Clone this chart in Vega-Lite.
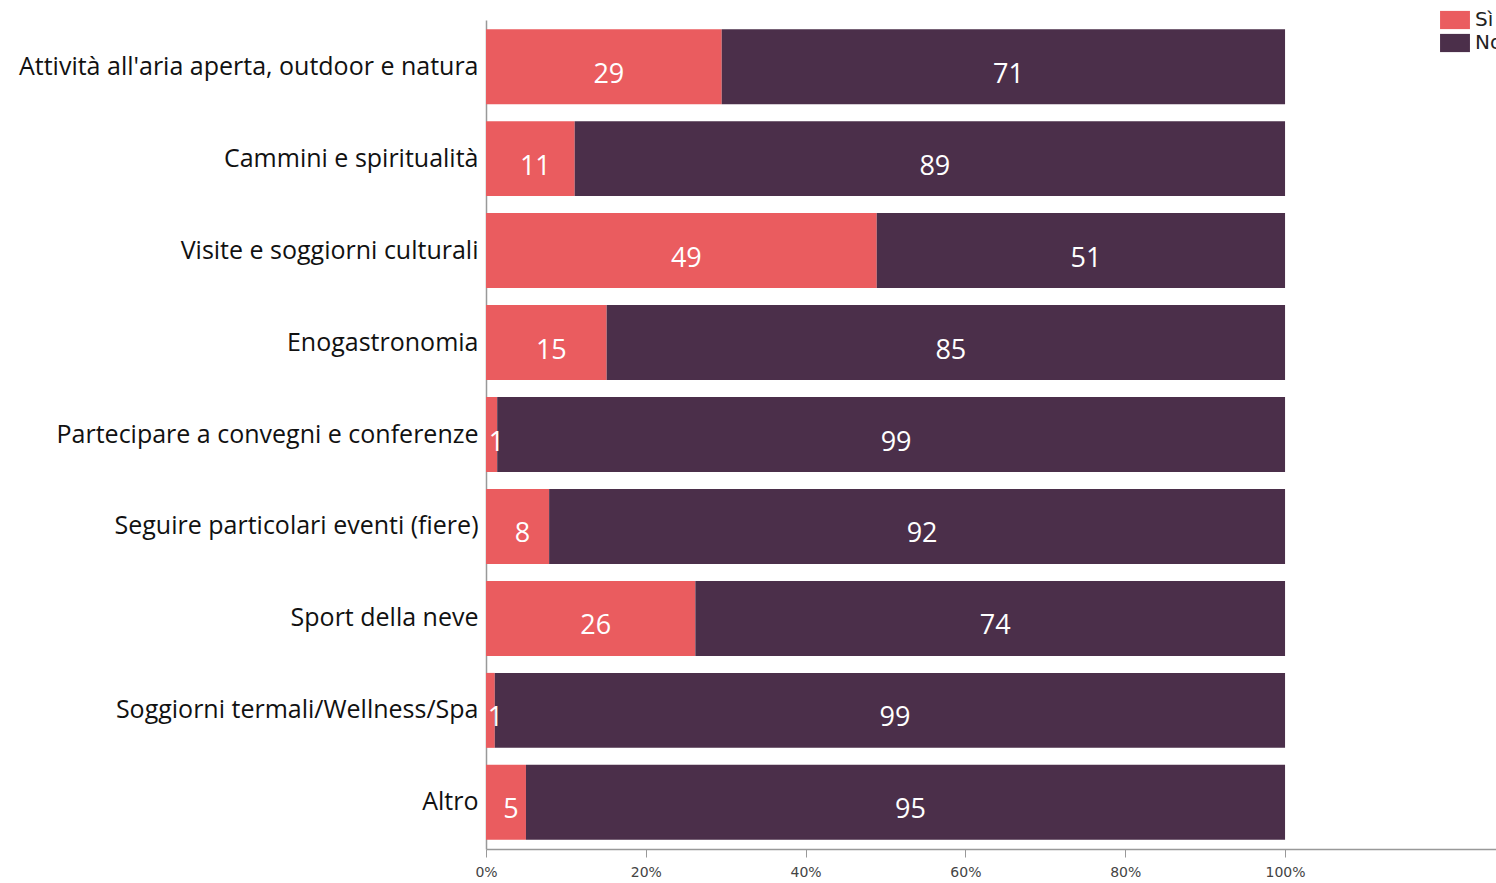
{
  "$schema": "https://vega.github.io/schema/vega-lite/v6.json",
  "width": 1010,
  "height": 829,
  "autosize": {"type": "none"},
  "padding": {"left": 486, "top": 20, "right": 0, "bottom": 34},
  "background": "white",
  "config": {"view": {"stroke": null}},
  "data": {
    "values": [
      {"cat": "Attività all'aria aperta, outdoor e natura", "risposta": "Sì", "valore": 29.5, "etichetta": "29"},
      {"cat": "Attività all'aria aperta, outdoor e natura", "risposta": "No", "valore": 70.5, "etichetta": "71"},
      {"cat": "Cammini e spiritualità", "risposta": "Sì", "valore": 11.1, "etichetta": "11"},
      {"cat": "Cammini e spiritualità", "risposta": "No", "valore": 88.9, "etichetta": "89"},
      {"cat": "Visite e soggiorni culturali", "risposta": "Sì", "valore": 48.9, "etichetta": "49"},
      {"cat": "Visite e soggiorni culturali", "risposta": "No", "valore": 51.1, "etichetta": "51"},
      {"cat": "Enogastronomia", "risposta": "Sì", "valore": 15.1, "etichetta": "15"},
      {"cat": "Enogastronomia", "risposta": "No", "valore": 84.9, "etichetta": "85"},
      {"cat": "Partecipare a convegni e conferenze", "risposta": "Sì", "valore": 1.4, "etichetta": "1"},
      {"cat": "Partecipare a convegni e conferenze", "risposta": "No", "valore": 98.6, "etichetta": "99"},
      {"cat": "Seguire particolari eventi (fiere)", "risposta": "Sì", "valore": 7.9, "etichetta": "8"},
      {"cat": "Seguire particolari eventi (fiere)", "risposta": "No", "valore": 92.1, "etichetta": "92"},
      {"cat": "Sport della neve", "risposta": "Sì", "valore": 26.2, "etichetta": "26"},
      {"cat": "Sport della neve", "risposta": "No", "valore": 73.8, "etichetta": "74"},
      {"cat": "Soggiorni termali/Wellness/Spa", "risposta": "Sì", "valore": 1.1, "etichetta": "1"},
      {"cat": "Soggiorni termali/Wellness/Spa", "risposta": "No", "valore": 98.9, "etichetta": "99"},
      {"cat": "Altro", "risposta": "Sì", "valore": 5.0, "etichetta": "5"},
      {"cat": "Altro", "risposta": "No", "valore": 95.0, "etichetta": "95"}
    ]
  },
  "encoding": {
    "y": {
      "field": "cat",
      "type": "nominal",
      "sort": null,
      "title": null,
      "scale": {"paddingInner": 0.185, "paddingOuter": 0.1},
      "axis": {
        "ticks": false,
        "labelFont": "Open Sans",
        "labelFontSize": 25,
        "labelColor": "#111111",
        "labelPadding": 8,
        "labelLimit": 600,
        "domainColor": "#999999",
        "domainWidth": 1.5
      }
    },
    "x": {
      "field": "valore",
      "type": "quantitative",
      "stack": "zero",
      "title": null,
      "scale": {"domain": [0, 126.4], "nice": false},
      "axis": {
        "values": [0, 20, 40, 60, 80, 100],
        "format": ".0f",
        "labelExpr": "datum.label + '%'",
        "labelFlush": false,
        "grid": false,
        "labelFont": "DejaVu Sans",
        "labelFontSize": 14,
        "labelColor": "#444444",
        "domainColor": "#999999",
        "domainWidth": 1.5,
        "tickColor": "#999999",
        "tickSize": 8,
        "labelPadding": 8
      }
    },
    "order": {"field": "ordine", "type": "quantitative"}
  },
  "transform": [
    {"calculate": "datum.risposta == 'Sì' ? 0 : 1", "as": "ordine"}
  ],
  "layer": [
    {
      "mark": {"type": "bar"},
      "encoding": {
        "color": {
          "field": "risposta",
          "type": "nominal",
          "sort": ["Sì", "No"],
          "scale": {"domain": ["Sì", "No"], "range": ["#EA5C5F", "#4B2F4A"]},
          "legend": {
            "title": null,
            "orient": "none",
            "legendX": 956,
            "legendY": -13,
            "symbolType": "M-1.15,-0.7H1.15V0.7H-1.15Z",
            "symbolSize": 676,
            "symbolStrokeWidth": 0,
            "labelFont": "DejaVu Sans",
            "labelFontSize": 20,
            "labelColor": "#222222",
            "labelOffset": 7,
            "rowPadding": 0
          }
        }
      }
    },
    {
      "mark": {"type": "text", "color": "white", "font": "Open Sans", "fontSize": 27, "baseline": "middle", "dy": 8, "dx": 5},
      "encoding": {
        "x": {"field": "valore", "type": "quantitative", "stack": "zero", "bandPosition": 0.5},
        "text": {"field": "etichetta", "type": "nominal"}
      }
    }
  ]
}
